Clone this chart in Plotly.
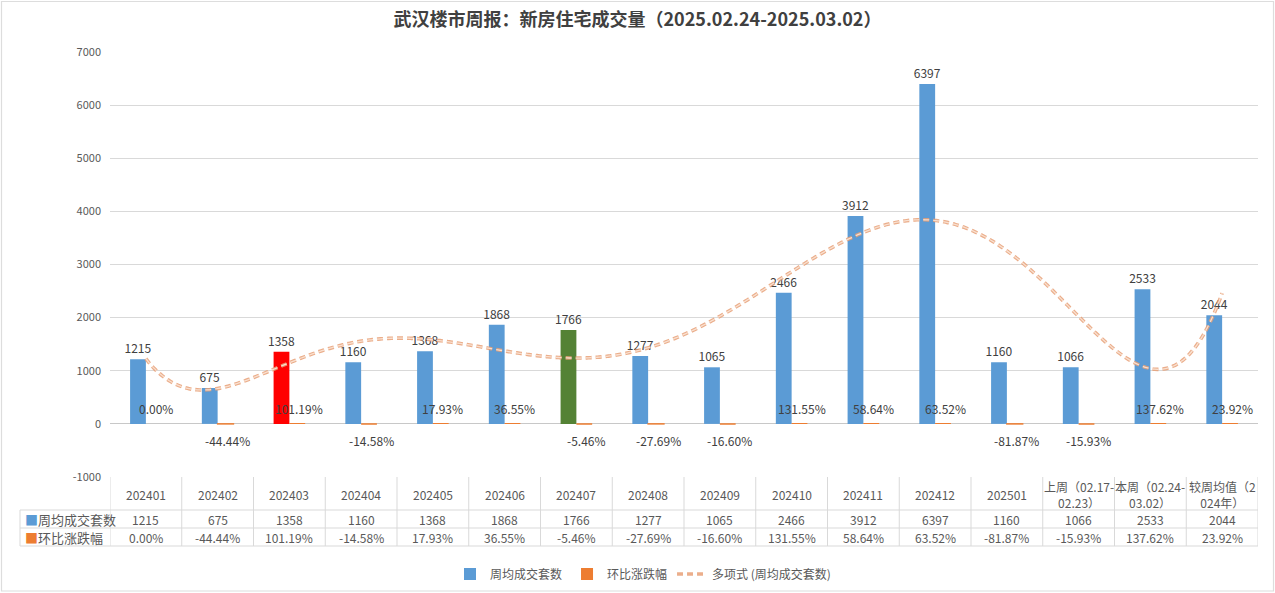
import numpy as np
import plotly.graph_objects as go

# ---------------- data ----------------
categories = ["202401", "202402", "202403", "202404", "202405", "202406", "202407",
              "202408", "202409", "202410", "202411", "202412", "202501",
              "上周（02.17-<br>02.23）", "本周（02.24-<br>03.02）", "较周均值（2<br>024年）"]
weekly_avg = [1215, 675, 1358, 1160, 1368, 1868, 1766, 1277, 1065, 2466, 3912, 6397, 1160, 1066, 2533, 2044]
mom_change = [0.0000, -0.4444, 1.0119, -0.1458, 0.1793, 0.3655, -0.0546, -0.2769, -0.1660,
              1.3155, 0.5864, 0.6352, -0.8187, -0.1593, 1.3762, 0.2392]
highlight = {2: "#FF0000", 6: "#548235"}
y_ticks = [-1000, 0, 1000, 2000, 3000, 4000, 5000, 6000, 7000]

title = "武汉楼市周报：新房住宅成交量（2025.02.24-2025.03.02）"
name_bar = "周均成交套数"
name_pct = "环比涨跌幅"
name_trend = "多项式 (周均成交套数)"

# ---------------- layout constants ----------------
W, H = 1275, 593
ML, MR, MT, MB = 110, 17, 52, 116
PW = W - ML - MR
PH = H - MT - MB
FONT = "Noto Sans CJK SC"
BLUE = "#5B9BD5"
ORANGE = "#ED7D31"
GRID = "#D9D9D9"
TXT = "#595959"
LBL = "#404040"


def py(p):  # pixel y -> paper y
    return (H - MB - p) / PH


def px(p):  # pixel x -> paper x
    return (p - ML) / PW


n = len(categories)
xs = np.arange(1, n + 1)

bar_colors = [highlight.get(i, BLUE) for i in range(n)]
pct_text = [f"{v * 100:.2f}%" for v in mom_change]

# polynomial trendline (order 6) of the weekly averages
coef = np.polyfit(xs, weekly_avg, 6)
xt = np.linspace(1, n, 400)
yt = np.polyval(coef, xt)

fig = go.Figure()
fig.add_trace(go.Bar(
    x=xs, y=weekly_avg, name=name_bar,
    marker=dict(color=bar_colors, line=dict(width=0)),
    text=[str(v) for v in weekly_avg], textposition="outside",
    constraintext="none", cliponaxis=False,
    textfont=dict(size=12, color=LBL, family=FONT),
))
fig.add_trace(go.Bar(
    x=xs, y=mom_change, name=name_pct,
    marker=dict(color=ORANGE,
                line=dict(color=ORANGE, width=[1.5 if v < 0 else 0 for v in mom_change])),
    textposition="none",
))
fig.add_trace(go.Scatter(
    x=xt, y=yt, mode="lines", name=name_trend, opacity=0.85,
    line=dict(color="#E8A077", width=3.6, dash="6px,4px", shape="spline"),
    hoverinfo="skip",
))
fig.add_trace(go.Scatter(
    x=xt, y=yt, mode="lines", name=name_trend, showlegend=False, opacity=0.9,
    line=dict(color="#FBE6D8", width=1.3, dash="6px,4px", shape="spline"),
    hoverinfo="skip",
))

shapes = []
# table lines
line_style = dict(color=GRID, width=1)
for p, x0 in [(510, 20), (528, 20), (546, 20)]:
    shapes.append(dict(type="line", xref="paper", yref="paper",
                       x0=px(x0), x1=1, y0=py(p), y1=py(p), line=line_style))
for k in range(n + 1):
    xv = 0.5 + k
    shapes.append(dict(type="line", xref="x", yref="paper",
                       x0=xv, x1=xv, y0=py(477), y1=py(546), line=line_style))
shapes.append(dict(type="line", xref="paper", yref="paper",
                   x0=px(20), x1=px(20), y0=py(510), y1=py(546), line=line_style))
# outer border
shapes.append(dict(type="rect", xref="paper", yref="paper",
                   x0=px(1.5), x1=px(W - 1.5), y0=py(1.5), y1=py(H - 2),
                   line=dict(color="#DDDDDD", width=1.2)))

ann = []
# percentage data labels near the zero line
for i in range(n):
    v = mom_change[i]
    ann.append(dict(x=xs[i], y=v, xref="x", yref="y", text=pct_text[i],
                    showarrow=False, font=dict(size=12, color=LBL, family=FONT),
                    xanchor="center", yanchor="middle",
                    xshift=10, yshift=(15 if v >= 0 else -17)))
# table texts
for i in range(n):
    ann.append(dict(x=xs[i], y=py(494), xref="x", yref="paper", text=categories[i],
                    showarrow=False, font=dict(size=12, color=TXT, family=FONT),
                    xanchor="center", yanchor="middle", align="center"))
    ann.append(dict(x=xs[i], y=py(519), xref="x", yref="paper", text=str(weekly_avg[i]),
                    showarrow=False, font=dict(size=12, color=TXT, family=FONT),
                    xanchor="center", yanchor="middle"))
    ann.append(dict(x=xs[i], y=py(537), xref="x", yref="paper", text=pct_text[i],
                    showarrow=False, font=dict(size=12, color=TXT, family=FONT),
                    xanchor="center", yanchor="middle"))
ann.append(dict(x=px(23), y=py(519), xref="paper", yref="paper",
                text=f'<span style="color:{BLUE}">■</span>{name_bar}',
                showarrow=False, font=dict(size=13, color=TXT, family=FONT),
                xanchor="left", yanchor="middle"))
ann.append(dict(x=px(23), y=py(537), xref="paper", yref="paper",
                text=f'<span style="color:{ORANGE}">■</span>{name_pct}',
                showarrow=False, font=dict(size=13, color=TXT, family=FONT),
                xanchor="left", yanchor="middle"))

fig.update_layout(
    width=W, height=H,
    margin=dict(l=ML, r=MR, t=MT, b=MB, autoexpand=False),
    paper_bgcolor="white", plot_bgcolor="white",
    font=dict(family=FONT, color=TXT, size=12),
    title=dict(text=f"<b>{title}</b>", x=0.5, xanchor="center", y=1 - 20 / H, yanchor="middle",
               font=dict(size=18, color="#404040", family=FONT)),
    barmode="group", bargap=0.56, bargroupgap=0,
    showlegend=True,
    legend=dict(orientation="h", x=px(643), xanchor="center", y=py(574), yanchor="middle",
                font=dict(size=12, color=TXT, family=FONT), bgcolor="rgba(0,0,0,0)",
                traceorder="normal"),
    shapes=shapes, annotations=ann,
)
fig.update_xaxes(range=[0.5, n + 0.5], showticklabels=False, showgrid=False,
                 zeroline=False, showline=False, ticks="")
fig.update_yaxes(range=[-1000, 7000], tickvals=y_ticks, ticktext=[str(t) for t in y_ticks],
                 showgrid=True, gridcolor=GRID, gridwidth=1,
                 zeroline=True, zerolinecolor="#C8C8C8", zerolinewidth=1, showline=False,
                 tickfont=dict(size=11, color=TXT, family=FONT), ticklabelstandoff=8)

fig.write_html("out.html", config={"displayModeBar": False},
               post_script="document.body.style.margin='0';")
